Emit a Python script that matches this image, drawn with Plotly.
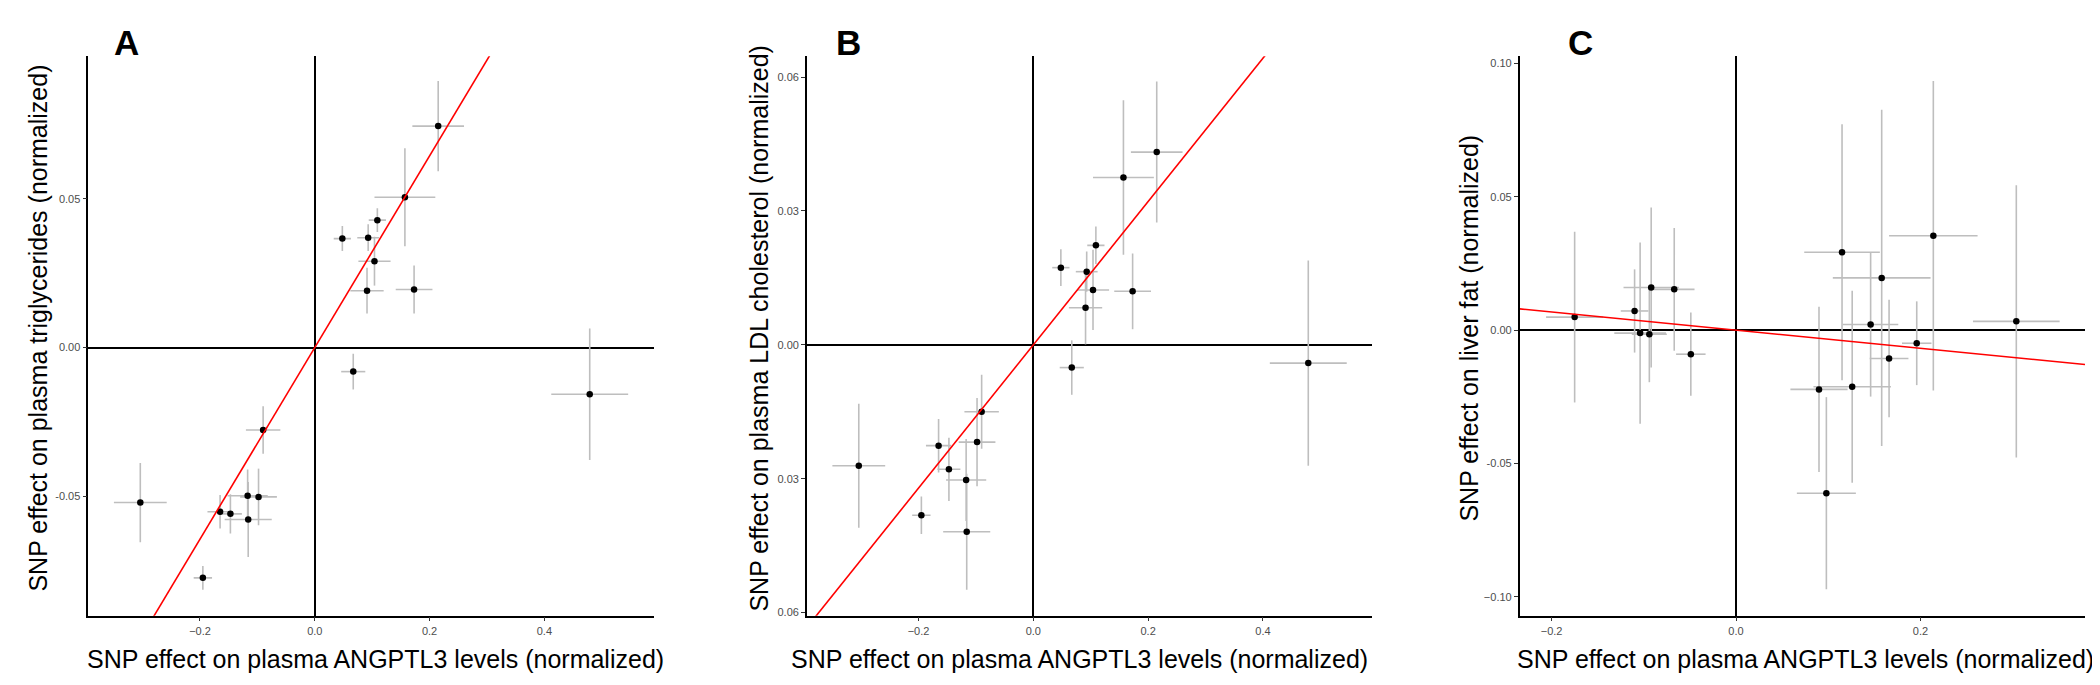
import plotly.graph_objects as go

# SNP effects on ANGPTL3 (shared by panels A and B)
angptl3_ab = [0.215, 0.157, 0.109, 0.048, 0.093, 0.104, 0.091, 0.173, 0.067, 0.479,
              -0.090, -0.304, -0.098, -0.165, -0.147, -0.117, -0.116, -0.195]
angptl3_ab_se = [0.045, 0.053, 0.015, 0.015, 0.019, 0.028, 0.029, 0.032, 0.021, 0.067,
                 0.030, 0.046, 0.032, 0.022, 0.020, 0.035, 0.041, 0.016]

tg = [0.0744, 0.0505, 0.0428, 0.0366, 0.0369, 0.0290, 0.0191, 0.0195, -0.0081, -0.0157,
      -0.0277, -0.0521, -0.0502, -0.0552, -0.0559, -0.0498, -0.0578, -0.0774]
tg_se = [0.0152, 0.0165, 0.0040, 0.0042, 0.0045, 0.0082, 0.0077, 0.0081, 0.0060, 0.0221,
         0.0080, 0.0133, 0.0095, 0.0056, 0.0066, 0.0088, 0.0126, 0.0040]

ldl = [0.0432, 0.0375, 0.0223, 0.0173, 0.0164, 0.0123, 0.0083, 0.0120, -0.0051, -0.0041,
       -0.0150, -0.0271, -0.0218, -0.0226, -0.0279, -0.0303, -0.0419, -0.0382]
ldl_se = [0.0158, 0.0173, 0.0042, 0.0041, 0.0045, 0.0090, 0.0082, 0.0085, 0.0061, 0.0230,
          0.0083, 0.0139, 0.0099, 0.0060, 0.0071, 0.0092, 0.0130, 0.0042]

# panel C uses its own set of SNP estimates
angptl3_c = [-0.175, -0.110, -0.104, -0.092, -0.094, -0.067, -0.049, 0.090, 0.098,
             0.115, 0.126, 0.146, 0.158, 0.166, 0.196, 0.214, 0.304]
angptl3_c_se = [0.031, 0.015, 0.028, 0.030, 0.019, 0.022, 0.016, 0.031, 0.032,
                0.041, 0.042, 0.030, 0.053, 0.021, 0.016, 0.048, 0.047]
liver_fat = [0.0049, 0.0072, -0.0011, 0.0160, -0.0015, 0.0153, -0.0090, -0.0222, -0.0611,
             0.0292, -0.0212, 0.0021, 0.0196, -0.0106, -0.0049, 0.0354, 0.0033]
liver_fat_se = [0.032, 0.0156, 0.034, 0.030, 0.018, 0.023, 0.0156, 0.031, 0.036,
                0.048, 0.036, 0.027, 0.063, 0.022, 0.0157, 0.058, 0.051]

# fitted slopes (regression through the origin)
slopes = [0.322, 0.1606, -0.034]

panels = [
    dict(x=angptl3_ab, xe=angptl3_ab_se, y=tg, ye=tg_se, slope=slopes[0], label="A",
         ytitle="SNP effect on plasma triglycerides (normalized)",
         xr=[-0.3946, 0.591], yr=[-0.0901, 0.0979],
         xt=[-0.2, 0.0, 0.2, 0.4], xl=["\u22120.2", "0.0", "0.2", "0.4"],
         yt=[-0.05, 0.0, 0.05], yl=["-0.05", "0.00", "0.05"],
         dom=[80.3, 646], ytx=30, xtx=367, lbl=118),
    dict(x=angptl3_ab, xe=angptl3_ab_se, y=ldl, ye=ldl_se, slope=slopes[1], label="B",
         ytitle="SNP effect on plasma LDL cholesterol (normalized)",
         xr=[-0.3944, 0.590], yr=[-0.0607, 0.0647],
         xt=[-0.2, 0.0, 0.2, 0.4], xl=["\u22120.2", "0.0", "0.2", "0.4"],
         yt=[-0.06, -0.03, 0.0, 0.03, 0.06], yl=["0.06", "0.03", "0.00", "0.03", "0.06"],
         dom=[798.9, 1364], ytx=751, xtx=1071, lbl=840),
    dict(x=angptl3_c, xe=angptl3_c_se, y=liver_fat, ye=liver_fat_se, slope=slopes[2], label="C",
         ytitle="SNP effect on liver fat (normalized)",
         xr=[-0.2346, 0.3785], yr=[-0.1070, 0.1027],
         xt=[-0.2, 0.0, 0.2], xl=["\u22120.2", "0.0", "0.2"],
         yt=[-0.10, -0.05, 0.0, 0.05, 0.10], yl=["\u22120.10", "-0.05", "0.00", "0.05", "0.10"],
         dom=[1511.7, 2077], ytx=1461, xtx=1797, lbl=1572),
]

W, H = 2100, 685
top_px, bot_px = 48.4, 610.3
ydom = [(H - bot_px) / H, (H - top_px) / H]
font = "Liberation Sans, Arial, sans-serif"

fig = go.Figure()
annotations = []
layout = {}
for i, p in enumerate(panels):
    n = "" if i == 0 else str(i + 1)
    xa, ya = "x" + n, "y" + n
    fig.add_trace(go.Scatter(
        x=p["x"], y=p["y"], mode="markers", xaxis=xa, yaxis=ya,
        marker=dict(color="black", size=6.5),
        error_x=dict(type="data", array=p["xe"], width=0, color="#BEBEBE", thickness=1.6),
        error_y=dict(type="data", array=p["ye"], width=0, color="#BEBEBE", thickness=1.6),
        showlegend=False, cliponaxis=False,
    ))
    lx = p["xr"]
    fig.add_trace(go.Scatter(
        x=lx, y=[v * p["slope"] for v in lx], mode="lines", xaxis=xa, yaxis=ya,
        line=dict(color="red", width=1.6), showlegend=False,
    ))
    axis_common = dict(
        showline=True, linecolor="black", linewidth=1.6, mirror=False,
        showgrid=False, zeroline=True, zerolinecolor="black", zerolinewidth=1.6,
        ticks="outside", ticklen=4, tickwidth=1.2, tickcolor="#333333",
        tickfont=dict(family=font, size=11, color="#4D4D4D"),
        tickmode="array",
    )
    layout["xaxis" + n] = dict(axis_common, domain=[p["dom"][0] / W, p["dom"][1] / W],
                               range=p["xr"], tickvals=p["xt"], ticktext=p["xl"],
                               anchor=ya)
    layout["yaxis" + n] = dict(axis_common, domain=ydom, range=p["yr"],
                               tickvals=p["yt"], ticktext=p["yl"], anchor=xa)
    annotations.append(dict(
        text="SNP effect on plasma ANGPTL3 levels (normalized)", xref="paper", yref="paper",
        x=p["xtx"] / W, y=(H - 654) / H, showarrow=False, xanchor="center", yanchor="middle",
        font=dict(family=font, size=25, color="black")))
    annotations.append(dict(
        text=p["ytitle"], xref="paper", yref="paper", textangle=-90,
        x=p["ytx"] / W, y=(H - 322) / H, showarrow=False,
        xanchor="center", yanchor="middle",
        font=dict(family=font, size=25, color="black")))
    annotations.append(dict(
        text="<b>" + p["label"] + "</b>", xref="paper", yref="paper",
        x=p["lbl"] / W, y=(H - 35) / H, showarrow=False, xanchor="center", yanchor="middle",
        font=dict(family=font, size=35, color="black")))

fig.update_layout(
    width=W, height=H, margin=dict(l=0, r=0, t=0, b=0),
    plot_bgcolor="white", paper_bgcolor="white",
    annotations=annotations, **layout,
)
fig.write_html("out.html")
